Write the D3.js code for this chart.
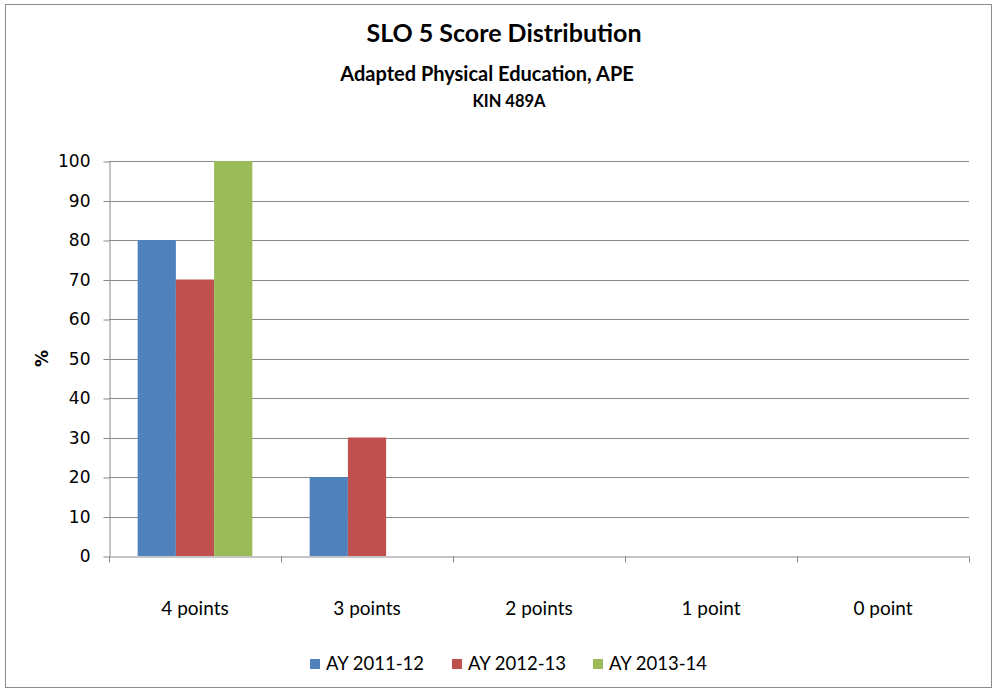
<!DOCTYPE html>
<html>
<head>
<meta charset="utf-8">
<script src="https://cdn.jsdelivr.net/npm/d3@7"></script>
<style>
  body { margin: 0; background: white; }
  svg { display: block; }
</style>
</head>
<body>
<script>
const width = 995;
const height = 691;
const margin = { top: 161, right: 25, bottom: 135, left: 109 };

// chart data
const categories = ["4 points", "3 points", "2 points", "1 point", "0 point"];
const seriesNames = ["AY 2011-12", "AY 2012-13", "AY 2013-14"];
const values2011 = [80, 20, 0, 0, 0];
const values2012 = [70, 30, 0, 0, 0];
const values2013 = [100, 0, 0, 0, 0];
const yTicks = [0, 10, 20, 30, 40, 50, 60, 70, 80, 90, 100];

const colors = ["#4f81bd", "#c0504d", "#9bbb59"];
const seriesValues = [values2011, values2012, values2013];

const svg = d3.select("body").append("svg")
  .attr("width", width)
  .attr("height", height);

// chart frame
svg.append("rect")
  .attr("x", 5.5).attr("y", 4.5)
  .attr("width", 986).attr("height", 683)
  .attr("fill", "white")
  .attr("stroke", "#8c8c8c")
  .attr("stroke-width", 1);

// titles
const titleFont = "Lato, 'Open Sans', sans-serif";
svg.append("text")
  .attr("x", 504).attr("y", 42)
  .attr("text-anchor", "middle")
  .attr("font-family", titleFont)
  .attr("font-weight", "bold")
  .attr("font-size", "25px")
  .text("SLO 5 Score Distribution");

svg.append("text")
  .attr("x", 487).attr("y", 81)
  .attr("text-anchor", "middle")
  .attr("font-family", titleFont)
  .attr("font-weight", "bold")
  .attr("font-size", "20px")
  .text("Adapted Physical Education, APE");

svg.append("text")
  .attr("x", 509).attr("y", 107)
  .attr("text-anchor", "middle")
  .attr("font-family", titleFont)
  .attr("font-weight", "bold")
  .attr("font-size", "16.5px")
  .text("KIN 489A");

const x0 = d3.scaleBand()
  .domain(categories)
  .range([margin.left, width - margin.right - 1])
  .paddingInner(0)
  .paddingOuter(0);

// 150% gap width: group takes 3 of 4.5 bar widths
const x1 = d3.scaleBand()
  .domain(seriesNames)
  .range([0, x0.bandwidth()])
  .paddingOuter(0.75)
  .paddingInner(0);

const y = d3.scaleLinear()
  .domain([0, 100])
  .range([height - margin.bottom, margin.top]);

// gridlines
svg.append("g")
  .selectAll("line")
  .data(yTicks.filter(d => d > 0))
  .enter()
  .append("line")
  .attr("x1", margin.left)
  .attr("x2", x0.range()[1])
  .attr("y1", d => Math.round(y(d)) + 0.5)
  .attr("y2", d => Math.round(y(d)) + 0.5)
  .attr("stroke", "#8a8a8a")
  .attr("stroke-width", 1);

// y axis
const yAxis = d3.axisLeft(y)
  .tickValues(yTicks)
  .tickSize(6)
  .tickPadding(13)
  .tickSizeOuter(0);

const yG = svg.append("g")
  .attr("transform", `translate(${margin.left + 0.5}, 0.5)`)
  .call(yAxis);

yG.selectAll(".tick line").attr("stroke", "#8a8a8a");
yG.select(".domain").attr("stroke", "#8a8a8a");
yG.selectAll("text")
  .attr("font-family", "'DejaVu Sans', Verdana, sans-serif")
  .attr("font-size", "17px")
  .attr("fill", "#000");

svg.append("text")
  .attr("transform", `translate(48, ${y(50)}) rotate(-90)`)
  .attr("text-anchor", "middle")
  .attr("font-family", "'DejaVu Sans', sans-serif")
  .attr("font-weight", "bold")
  .attr("font-size", "17px")
  .text("%");

// bars
const groups = svg.append("g")
  .selectAll("g")
  .data(categories)
  .enter()
  .append("g")
  .attr("transform", d => `translate(${x0(d)}, 0)`);

groups.selectAll("rect")
  .data((d, i) => seriesNames.map((s, j) => ({ series: s, value: seriesValues[j][i], color: colors[j] })))
  .enter()
  .append("rect")
  .attr("x", d => x1(d.series))
  .attr("width", x1.bandwidth())
  .attr("y", d => y(d.value))
  .attr("height", d => y(0) - y(d.value))
  .attr("fill", d => d.color);

// x axis
const xAxis = d3.axisBottom(x0)
  .tickSize(0)
  .tickPadding(45);

const xG = svg.append("g")
  .attr("transform", `translate(0, ${y(0) + 0.5})`)
  .call(xAxis);

xG.select(".domain").attr("stroke", "#8a8a8a");
xG.selectAll("text")
  .attr("font-family", "Lato, 'Open Sans', sans-serif")
  .attr("font-size", "19px")
  .attr("fill", "#000");

// category boundary ticks
xG.append("g")
  .selectAll("line")
  .data(categories.map(c => x0(c)).concat([x0.range()[1]]))
  .enter()
  .append("line")
  .attr("x1", d => Math.round(d) + 0.5)
  .attr("x2", d => Math.round(d) + 0.5)
  .attr("y1", 0)
  .attr("y2", 6)
  .attr("stroke", "#8a8a8a");

// legend
const legendX = [310, 452, 593];
const legend = svg.append("g")
  .selectAll("g")
  .data(seriesNames)
  .enter()
  .append("g")
  .attr("transform", (d, i) => `translate(${legendX[i]}, 659)`);

legend.append("rect")
  .attr("width", 10)
  .attr("height", 10)
  .attr("fill", (d, i) => colors[i]);

legend.append("text")
  .attr("x", 16)
  .attr("y", 11)
  .attr("font-family", "Lato, 'Open Sans', sans-serif")
  .attr("font-size", "18.5px")
  .text(d => d);
</script>
</body>
</html>
